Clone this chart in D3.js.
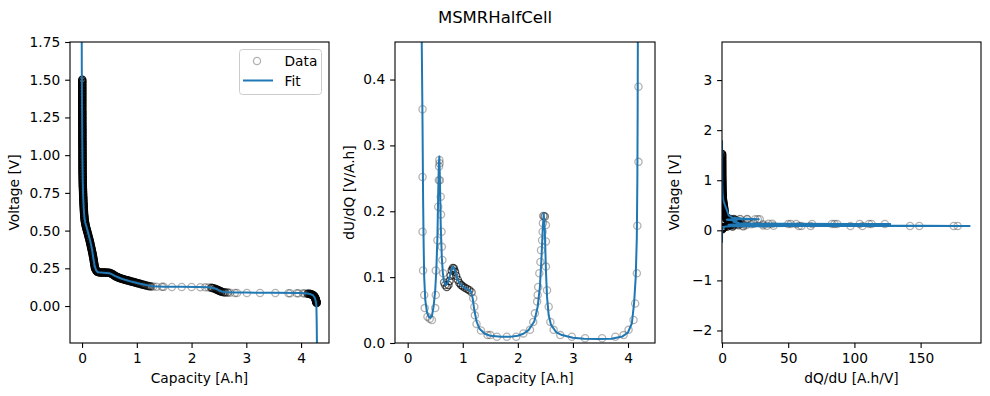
<!DOCTYPE html>
<html>
<head>
<meta charset="utf-8">
<script src="https://cdn.jsdelivr.net/npm/d3@7"></script>
<style>
  body { margin: 0; background: #fff; }
  svg { font-family: "DejaVu Sans", sans-serif; }
</style>
</head>
<body>
<div id="chart"></div>
<script>
const titleText = "MSMRHalfCell";

// measured half cell data: [capacity A.h, voltage V, samples overlapping at that spot]
const voltageData = [
  [0.004,1.50,12],[0.004,1.49,12],[0.004,1.48,12],[0.004,1.47,12],[0.004,1.46,12],[0.004,1.45,12],[0.004,1.44,12],[0.004,1.43,12],
  [0.004,1.42,12],[0.004,1.41,12],[0.004,1.40,12],[0.004,1.39,12],[0.004,1.38,12],[0.004,1.37,12],[0.004,1.36,12],[0.004,1.35,12],
  [0.004,1.34,12],[0.004,1.33,12],[0.004,1.32,12],[0.004,1.31,12],[0.004,1.30,12],[0.005,1.29,12],[0.005,1.28,12],[0.005,1.27,12],
  [0.005,1.26,12],[0.005,1.25,12],[0.005,1.24,12],[0.005,1.23,12],[0.005,1.22,12],[0.005,1.21,12],[0.005,1.20,12],[0.006,1.19,12],
  [0.006,1.18,12],[0.006,1.17,12],[0.006,1.16,12],[0.006,1.15,12],[0.006,1.14,12],[0.006,1.13,12],[0.006,1.12,12],[0.006,1.11,12],
  [0.006,1.10,12],[0.007,1.09,12],[0.007,1.08,12],[0.007,1.07,12],[0.007,1.06,12],[0.007,1.05,12],[0.007,1.04,12],[0.008,1.03,12],
  [0.008,1.02,12],[0.008,1.01,12],[0.008,1.00,12],[0.008,0.99,12],[0.008,0.98,12],[0.008,0.97,12],[0.009,0.96,12],[0.009,0.95,12],
  [0.009,0.94,12],[0.009,0.93,12],[0.009,0.92,12],[0.009,0.91,12],[0.009,0.90,12],[0.0095,0.89,12],[0.010,0.88,12],[0.0105,0.87,12],
  [0.011,0.86,12],[0.0115,0.85,12],[0.012,0.84,12],[0.0125,0.83,12],[0.013,0.82,12],[0.0135,0.81,12],[0.014,0.80,12],[0.015,0.79,12],
  [0.016,0.78,12],[0.017,0.77,12],[0.018,0.76,12],[0.019,0.75,12],[0.020,0.74,12],[0.021,0.73,12],[0.022,0.72,12],[0.023,0.71,12],
  [0.024,0.70,12],[0.0255,0.69,12],[0.027,0.68,12],[0.0285,0.67,12],[0.030,0.66,12],[0.0315,0.65,12],[0.033,0.64,12],[0.0345,0.63,12],
  [0.036,0.62,12],[0.038,0.61,12],[0.040,0.60,12],[0.0425,0.59,12],[0.045,0.58,12],[0.048,0.57,12],[0.052,0.56,12],[0.057,0.55,12],
  [0.062,0.54,12],[0.068,0.53,12],[0.075,0.52,12],[0.082,0.51,12],[0.090,0.50,12],[0.097,0.49,12],[0.105,0.48,12],[0.112,0.47,12],
  [0.120,0.46,12],[0.128,0.45,12],[0.135,0.44,12],[0.142,0.43,12],[0.148,0.42,12],[0.154,0.41,12],[0.160,0.40,12],[0.166,0.39,12],
  [0.172,0.38,12],[0.178,0.37,12],[0.184,0.36,12],[0.190,0.35,12],[0.195,0.34,12],[0.200,0.33,12],[0.205,0.32,12],[0.210,0.31,12],
  [0.214,0.30,12],[0.219,0.29,12],[0.223,0.28,12],[0.228,0.27,12],[0.232,0.26,12],[0.238,0.25,12],[0.245,0.245,12],
  [0.260,0.235,10],[0.270,0.231,10],[0.280,0.228,10],[0.295,0.226,8],
  [0.31,0.224,6],[0.33,0.223,6],[0.35,0.223,6],[0.37,0.222,6],[0.39,0.222,6],[0.41,0.222,6],[0.43,0.222,6],[0.45,0.221,6],
  [0.47,0.221,6],[0.49,0.220,6],[0.51,0.219,6],[0.53,0.216,6],[0.55,0.213,6],[0.565,0.209,6],[0.58,0.205,6],[0.595,0.201,6],
  [0.61,0.198,6],[0.625,0.195,6],[0.64,0.193,6],[0.655,0.190,6],[0.67,0.188,5],[0.685,0.186,5],[0.70,0.184,5],[0.72,0.181,5],
  [0.74,0.179,5],[0.76,0.177,5],[0.78,0.175,5],[0.80,0.173,5],[0.82,0.171,5],[0.84,0.169,5],[0.86,0.167,5],[0.88,0.165,4],
  [0.90,0.163,4],[0.92,0.161,4],[0.94,0.159,4],[0.96,0.157,4],[0.98,0.155,4],[1.00,0.153,4],[1.02,0.151,4],[1.04,0.149,3],
  [1.06,0.147,3],[1.08,0.145,3],[1.10,0.143,3],[1.12,0.141,3],[1.14,0.139,3],[1.16,0.137,2],[1.18,0.135,2],[1.20,0.133,2],
  [1.22,0.132,2],[1.24,0.131,2],[1.26,0.130,2],
  [1.30,0.129,1],[1.36,0.128,1],[1.46,0.127,1],[1.49,0.127,1],[1.64,0.126,1],[1.82,0.126,1],[2.00,0.126,1],[2.16,0.125,1],
  [2.25,0.124,1],[2.31,0.123,1],
  [2.36,0.121,3],[2.38,0.120,3],[2.40,0.118,3],[2.43,0.114,3],[2.445,0.111,3],[2.46,0.109,3],[2.475,0.106,3],[2.49,0.104,3],
  [2.505,0.101,3],[2.52,0.099,3],[2.535,0.097,3],[2.55,0.095,3],[2.58,0.092,2],[2.60,0.091,2],
  [2.62,0.090,2],[2.66,0.089,2],[2.70,0.088,1],
  [2.79,0.087,1],[2.83,0.087,1],[3.01,0.086,1],[3.25,0.086,1],[3.53,0.086,1],[3.77,0.085,1],[3.80,0.085,1],[3.92,0.085,1],
  [3.95,0.084,1],[4.04,0.084,1],[4.07,0.083,1],
  [4.12,0.082,4],[4.14,0.081,4],[4.16,0.080,5],[4.175,0.079,5],[4.19,0.077,6],[4.20,0.075,6],[4.21,0.073,6],[4.22,0.071,6],
  [4.23,0.068,6],[4.24,0.065,6],[4.245,0.062,6],[4.25,0.058,6],[4.255,0.055,6],[4.26,0.052,6],[4.265,0.048,6],[4.268,0.044,6],
  [4.27,0.040,6],[4.273,0.036,6],[4.275,0.033,6],[4.278,0.029,6],[4.28,0.026,6],[4.283,0.023,6],[4.285,0.020,6]
];

// MSMR fit: [capacity A.h, voltage V]
const voltageFit = [
  [-0.006,1.85],[-0.005,1.60],[0.000,1.30],[0.004,1.10],[0.008,0.95],[0.012,0.84],[0.018,0.75],[0.030,0.65],[0.045,0.58],
  [0.060,0.55],[0.085,0.52],[0.115,0.48],[0.150,0.43],[0.180,0.38],[0.205,0.32],[0.230,0.265],[0.260,0.235],[0.290,0.224],
  [0.40,0.221],[0.50,0.217],[0.55,0.210],[0.60,0.200],[0.70,0.184],[0.80,0.172],[0.90,0.162],[1.00,0.153],[1.10,0.145],
  [1.20,0.137],[1.30,0.131],[1.50,0.128],[1.80,0.127],[2.10,0.126],[2.30,0.124],[2.40,0.120],[2.45,0.113],[2.50,0.103],
  [2.55,0.097],[2.65,0.092],[2.80,0.090],[3.00,0.089],[3.50,0.088],[4.00,0.086],[4.12,0.083],[4.18,0.078],[4.22,0.070],
  [4.25,0.055],[4.27,0.030],[4.28,0.000],[4.285,-0.10],[4.29,-0.25]
];

// differential voltage: [capacity A.h, dU/dQ V/A.h, samples]
const dudqData = [
  [0.27,0.355,1],[0.27,0.252,1],[0.27,0.169,1],[0.28,0.110,1],[0.30,0.073,1],[0.31,0.053,1],[0.36,0.040,1],[0.40,0.037,1],
  [0.44,0.035,1],[0.50,0.053,1],[0.51,0.073,1],[0.51,0.110,1],[0.54,0.156,1],[0.555,0.207,1],[0.565,0.247,1],[0.57,0.268,1],
  [0.575,0.278,1],[0.58,0.273,1],[0.585,0.247,1],[0.60,0.222,1],[0.605,0.195,1],[0.615,0.169,1],[0.62,0.146,1],[0.63,0.126,1],
  [0.645,0.106,1],[0.66,0.092,2],[0.68,0.088,2],[0.71,0.085,3],[0.74,0.088,3],[0.76,0.094,3],[0.78,0.102,3],[0.80,0.110,3],
  [0.82,0.114,3],[0.84,0.113,3],[0.86,0.108,3],[0.88,0.102,3],[0.91,0.096,3],[0.94,0.091,3],[0.97,0.088,3],[1.00,0.086,3],
  [1.04,0.084,3],[1.08,0.082,3],[1.12,0.080,3],[1.16,0.077,2],[1.19,0.068,1],[1.21,0.055,1],[1.22,0.042,1],[1.25,0.029,1],
  [1.33,0.019,1],[1.45,0.012,1],[1.50,0.012,1],[1.62,0.0096,1],[1.80,0.0096,1],[1.97,0.0096,1],[2.10,0.0146,1],[2.22,0.020,1],
  [2.28,0.032,1],[2.31,0.045,1],[2.35,0.063,1],[2.36,0.073,1],[2.37,0.085,1],[2.39,0.106,1],[2.41,0.123,1],[2.42,0.141,1],
  [2.44,0.156,1],[2.45,0.169,1],[2.455,0.182,1],[2.465,0.193,2],[2.49,0.192,2],[2.51,0.179,1],[2.51,0.154,1],[2.51,0.116,1],
  [2.53,0.080,1],[2.56,0.055,1],[2.59,0.032,1],[2.65,0.020,1],[2.77,0.012,1],[2.98,0.0096,1],[3.22,0.0071,1],[3.53,0.0071,1],
  [3.77,0.0096,1],[3.92,0.012,1],[4.01,0.020,1],[4.10,0.035,1],[4.13,0.060,1],[4.16,0.106,1],[4.17,0.178,1],[4.19,0.275,1],
  [4.19,0.389,1]
];

// fitted dU/dQ: [capacity A.h, dU/dQ V/A.h]
const dudqFit = [
  [0.25,0.50],[0.26,0.42],[0.27,0.33],[0.28,0.22],[0.29,0.15],[0.30,0.10],[0.32,0.065],[0.35,0.047],[0.38,0.040],[0.41,0.038],
  [0.44,0.041],[0.47,0.055],[0.50,0.080],[0.52,0.110],[0.54,0.160],[0.555,0.230],[0.565,0.270],[0.575,0.283],[0.585,0.250],
  [0.60,0.180],[0.62,0.130],[0.64,0.105],[0.66,0.093],[0.69,0.088],[0.72,0.090],[0.76,0.100],[0.80,0.113],[0.83,0.116],
  [0.86,0.110],[0.90,0.098],[0.95,0.090],[1.00,0.086],[1.05,0.083],[1.10,0.081],[1.15,0.078],[1.18,0.068],[1.21,0.050],
  [1.25,0.033],[1.30,0.022],[1.40,0.014],[1.50,0.011],[1.70,0.0095],[1.90,0.0097],[2.00,0.011],[2.10,0.014],[2.20,0.020],
  [2.30,0.033],[2.36,0.055],[2.40,0.085],[2.43,0.130],[2.45,0.170],[2.47,0.197],[2.49,0.170],[2.51,0.110],[2.53,0.070],
  [2.56,0.042],[2.60,0.028],[2.70,0.016],[2.80,0.012],[3.00,0.008],[3.20,0.0065],[3.45,0.006],[3.70,0.0065],[3.90,0.010],
  [4.00,0.016],[4.07,0.030],[4.11,0.060],[4.14,0.100],[4.16,0.160],[4.17,0.250],[4.175,0.350],[4.18,0.50]
];

// differential capacity: [dQ/dU A.h/V, voltage V, samples]
const dqduData = [
  [0.10,1.525,12],[0.10,1.50,12],[0.10,1.475,12],[0.10,1.45,12],[0.10,1.425,12],[0.10,1.40,12],[0.11,1.375,12],[0.11,1.35,12],
  [0.12,1.325,12],[0.12,1.30,12],[0.12,1.275,12],[0.13,1.25,12],[0.13,1.225,12],[0.14,1.20,12],[0.14,1.175,12],[0.15,1.15,12],
  [0.15,1.125,12],[0.16,1.10,12],[0.17,1.075,12],[0.18,1.05,12],[0.19,1.025,12],[0.20,1.00,12],[0.21,0.975,12],[0.22,0.95,12],
  [0.24,0.925,12],[0.25,0.90,12],[0.27,0.875,12],[0.28,0.85,12],[0.30,0.825,12],[0.32,0.80,12],[0.36,0.775,12],[0.40,0.75,12],
  [0.45,0.725,12],[0.50,0.70,12],[0.55,0.675,12],[0.60,0.65,12],[0.70,0.625,12],[0.80,0.60,12],[0.90,0.575,12],[1.00,0.55,12],
  [1.15,0.525,12],[1.30,0.50,12],[1.45,0.475,12],[1.60,0.45,12],[1.70,0.425,12],[1.80,0.40,12],[1.90,0.375,12],[2.00,0.35,12],
  [2.10,0.325,12],[2.20,0.30,12],[2.50,0.28,10],[3.00,0.26,8],[4.0,0.245,6],
  [2.8,0.240,2],[4.0,0.235,2],[5.9,0.232,2],[9.0,0.228,2],[13.7,0.226,1],[19.0,0.224,1],[25.0,0.222,1],[27.0,0.222,1],
  [28.5,0.221,1],[19.0,0.220,1],[13.6,0.220,1],[9.0,0.219,2],[6.4,0.218,2],[4.8,0.217,2],[3.9,0.216,2],[3.6,0.215,2],
  [3.7,0.213,2],[4.0,0.210,2],[4.5,0.208,2],[5.1,0.206,2],[6.0,0.203,2],[7.2,0.200,2],[8.0,0.198,2],[9.0,0.195,3],
  [9.8,0.192,3],[11.0,0.190,3],[11.5,0.185,3],[10.0,0.180,3],[9.0,0.175,3],[8.8,0.170,3],[9.5,0.165,3],[10.5,0.160,3],
  [11.2,0.155,3],[11.8,0.150,3],[12.3,0.145,3],[12.8,0.140,2],[14.0,0.136,1],[18.0,0.134,1],[24.0,0.131,1],
  [35.0,0.130,1],[38.0,0.129,1],[52.0,0.128,1],[56.0,0.128,1],[68.0,0.127,1],[83.0,0.127,1],[85.0,0.127,1],[87.0,0.127,1],
  [104.0,0.126,1],[111.0,0.126,1],[113.0,0.126,1],[123.0,0.125,1],
  [50.0,0.124,1],[31.0,0.123,1],[22.0,0.122,1],[16.0,0.121,1],[12.0,0.120,2],[9.4,0.119,2],[8.0,0.118,2],[7.0,0.117,2],
  [6.0,0.116,2],[5.4,0.114,2],[5.2,0.112,2],[5.6,0.110,2],[6.5,0.108,2],[8.6,0.105,2],[12.5,0.102,2],[18.0,0.099,1],
  [31.0,0.096,1],
  [34.0,0.090,1],[39.0,0.089,1],[58.0,0.088,1],[60.0,0.088,1],[67.0,0.087,1],[97.0,0.087,1],[106.0,0.086,1],[142.0,0.086,1],
  [149.0,0.086,1],[175.0,0.085,1],[178.0,0.085,1],
  [16.0,0.080,2],[8.0,0.078,4],[4.0,0.074,6],[2.0,0.068,6],[1.0,0.060,6],[0.6,0.050,6],[0.4,0.040,6],[0.3,0.030,6],[0.2,0.020,6]
];

// fitted dQ/dU: [dQ/dU A.h/V, voltage V]
const dqduFit = [
  [0.02,1.80],[0.1,1.20],[0.2,0.90],[0.5,0.70],[1.0,0.60],[2.0,0.52],[3.0,0.45],[4.0,0.38],[5.0,0.30],[8.0,0.25],
  [15.0,0.235],[27.7,0.222],[20.0,0.221],[10.0,0.220],[5.0,0.218],[3.6,0.212],[5.0,0.207],[8.0,0.203],[11.0,0.195],
  [10.0,0.185],[8.6,0.172],[10.5,0.160],[12.5,0.150],[13.0,0.140],[20.0,0.135],[50.0,0.130],[100.0,0.128],[127.0,0.127],
  [80.0,0.126],[40.0,0.125],[15.0,0.122],[8.0,0.118],[5.0,0.113],[10.0,0.104],[30.0,0.098],[60.0,0.095],[100.0,0.093],
  [150.0,0.090],[180.0,0.088],[187.0,0.087],[170.0,0.086],[100.0,0.085],[50.0,0.084],[20.0,0.082],[8.0,0.079],
  [3.0,0.075],[1.0,0.065],[0.3,0.030],[0.05,0.000],[0.01,-0.25]
];

const capacityTicks = [0, 1, 2, 3, 4];
const voltageTicks = [0, 0.25, 0.5, 0.75, 1, 1.25, 1.5, 1.75];
const dudqTicks = [0, 0.1, 0.2, 0.3, 0.4];
const dqduTicks = [0, 50, 100, 150];
const voltageTicksWide = [-2, -1, 0, 1, 2, 3];

const width = 990, height = 396;
const plotTop = 42, plotBottom = 343;
const fitColor = "#1f77b4";
const fontSize = 13.75;

const panels = [
  {x0: 70, x1: 329, xDomain: [-0.22, 4.51], yDomain: [-0.245, 1.75],
   xTicks: capacityTicks, xFmt: d3.format("d"), yTicks: voltageTicks, yFmt: d3.format(".2f"),
   xLabel: "Capacity [A.h]", yLabel: "Voltage [V]", yLabelX: 19,
   data: voltageData, fit: voltageFit, legend: true},
  {x0: 395, x1: 655, xDomain: [-0.23, 4.49], yDomain: [0, 0.457],
   xTicks: capacityTicks, xFmt: d3.format("d"), yTicks: dudqTicks, yFmt: d3.format(".1f"),
   xLabel: "Capacity [A.h]", yLabel: "dU/dQ [V/A.h]", yLabelX: 354,
   data: dudqData, fit: dudqFit},
  {x0: 722, x1: 981, xDomain: [0, 195.6], yDomain: [-2.25, 3.76],
   xTicks: dqduTicks, xFmt: d3.format("d"), yTicks: voltageTicksWide, yFmt: d3.format("d"),
   xLabel: "dQ/dU [A.h/V]", yLabel: "Voltage [V]", yLabelX: 679,
   data: dqduData, fit: dqduFit}
];

const svg = d3.select("#chart")
  .append("svg")
  .attr("width", width)
  .attr("height", height);

svg.append("rect").attr("width", width).attr("height", height).attr("fill", "#fff");

svg.append("text")
  .attr("x", width / 2)
  .attr("y", 23)
  .attr("text-anchor", "middle")
  .attr("font-size", 16.5)
  .text(titleText);

panels.forEach((p, i) => {
  const x = d3.scaleLinear().domain(p.xDomain).range([p.x0, p.x1]);
  const y = d3.scaleLinear().domain(p.yDomain).range([plotBottom, plotTop]);
  const g = svg.append("g");

  g.append("clipPath").attr("id", "clip" + i)
    .append("rect")
    .attr("x", p.x0).attr("y", plotTop)
    .attr("width", p.x1 - p.x0).attr("height", plotBottom - plotTop);

  const plot = g.append("g").attr("clip-path", `url(#clip${i})`);

  // data circles, darker where many samples pile up
  plot.selectAll("circle")
    .data(p.data)
    .join("circle")
    .attr("cx", d => x(d[0]))
    .attr("cy", d => y(d[1]))
    .attr("r", 3.6)
    .attr("fill", "none")
    .attr("stroke", "#000")
    .attr("stroke-width", 1.3)
    .attr("stroke-opacity", d => 1 - Math.pow(0.7, d[2]));

  const line = d3.line().x(d => x(d[0])).y(d => y(d[1]));
  plot.append("path")
    .datum(p.fit)
    .attr("d", line)
    .attr("fill", "none")
    .attr("stroke", fitColor)
    .attr("stroke-width", 2)
    .attr("stroke-linejoin", "round");

  // axes
  const xAxis = g.append("g")
    .attr("transform", `translate(0,${plotBottom})`)
    .call(d3.axisBottom(x).tickValues(p.xTicks).tickFormat(p.xFmt).tickSize(4.9).tickPadding(4.9).tickSizeOuter(0));
  const yAxis = g.append("g")
    .attr("transform", `translate(${p.x0},0)`)
    .call(d3.axisLeft(y).tickValues(p.yTicks).tickFormat(p.yFmt).tickSize(4.9).tickPadding(4.9).tickSizeOuter(0));
  [xAxis, yAxis].forEach(a => {
    a.select(".domain").remove();
    a.selectAll("line").attr("stroke", "#000").attr("stroke-width", 1.1);
    a.selectAll("text").attr("font-size", fontSize).attr("fill", "#000")
      .attr("font-family", "DejaVu Sans, sans-serif");
  });

  g.append("rect")
    .attr("x", p.x0).attr("y", plotTop)
    .attr("width", p.x1 - p.x0).attr("height", plotBottom - plotTop)
    .attr("fill", "none")
    .attr("stroke", "#000")
    .attr("stroke-width", 1.1);

  g.append("text")
    .attr("x", (p.x0 + p.x1) / 2)
    .attr("y", 383)
    .attr("text-anchor", "middle")
    .attr("font-size", fontSize)
    .text(p.xLabel);

  g.append("text")
    .attr("transform", `translate(${p.yLabelX},${(plotTop + plotBottom) / 2}) rotate(-90)`)
    .attr("text-anchor", "middle")
    .attr("font-size", fontSize)
    .text(p.yLabel);

  if (p.legend) {
    const lg = g.append("g");
    lg.append("rect")
      .attr("x", 239.5).attr("y", 49.5)
      .attr("width", 82).attr("height", 45)
      .attr("rx", 3)
      .attr("fill", "#fff").attr("fill-opacity", 0.8)
      .attr("stroke", "#ccc").attr("stroke-width", 1);
    lg.append("circle")
      .attr("cx", 257).attr("cy", 61).attr("r", 3.6)
      .attr("fill", "none").attr("stroke", "#000").attr("stroke-opacity", 0.3).attr("stroke-width", 1.3);
    lg.append("text").attr("x", 284.5).attr("y", 65.5).attr("font-size", fontSize).text("Data");
    lg.append("line")
      .attr("x1", 243).attr("x2", 273).attr("y1", 80.5).attr("y2", 80.5)
      .attr("stroke", fitColor).attr("stroke-width", 2);
    lg.append("text").attr("x", 284.5).attr("y", 86).attr("font-size", fontSize).text("Fit");
  }
});
</script>
</body>
</html>
